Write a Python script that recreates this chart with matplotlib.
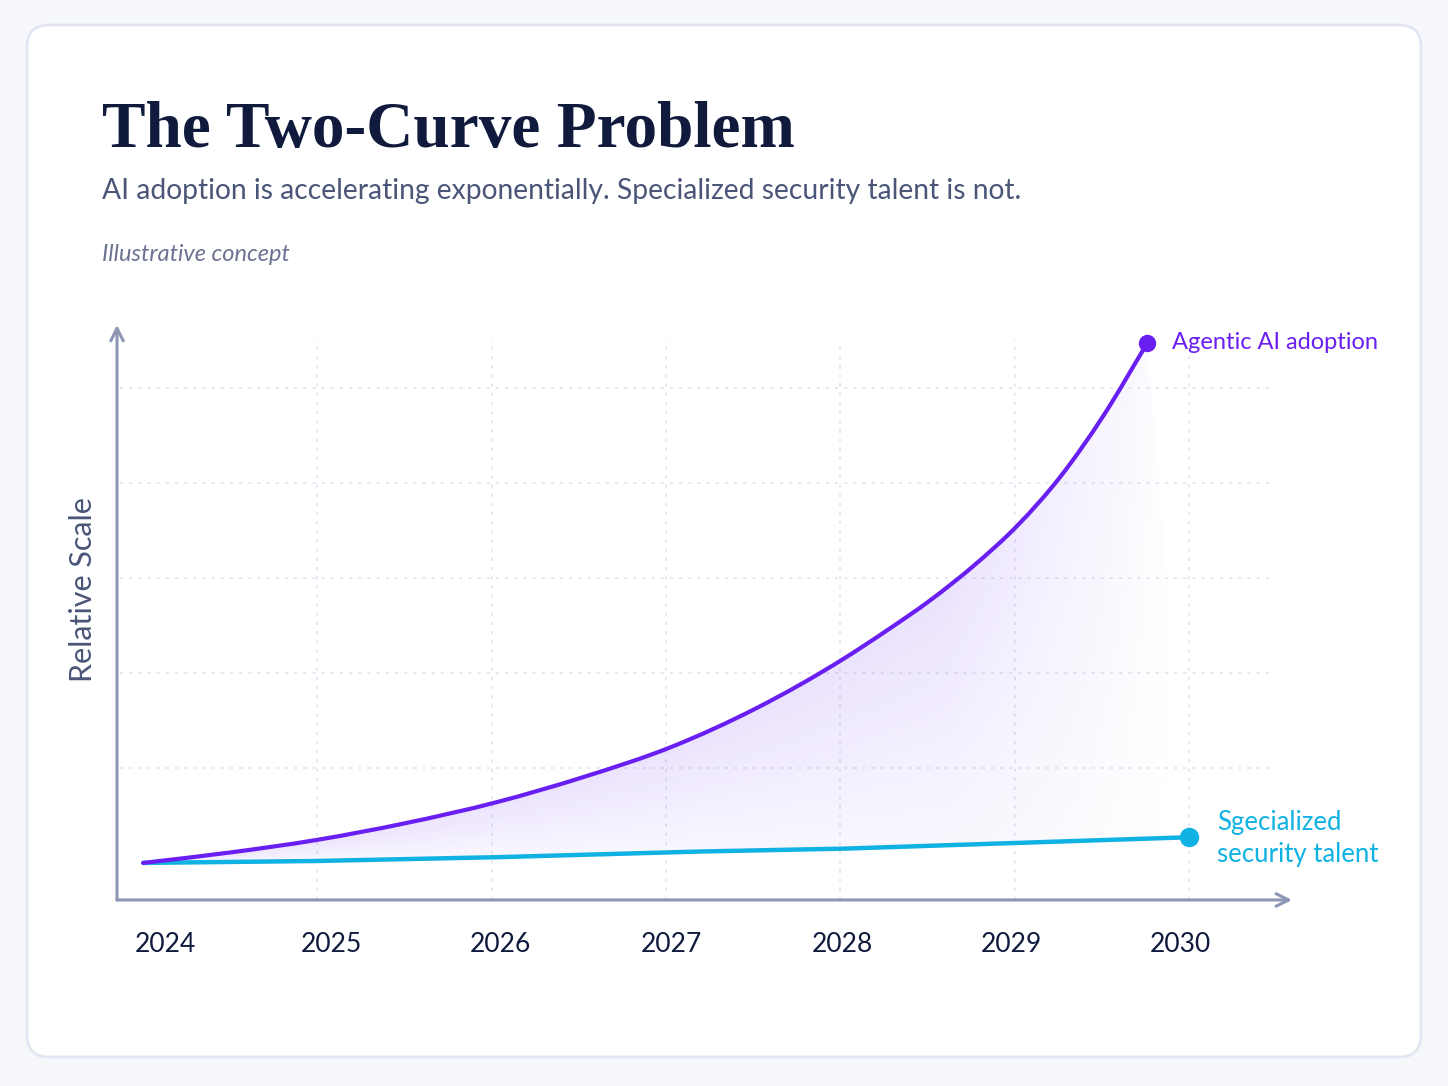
import numpy as np
import matplotlib
matplotlib.use('Agg')
import matplotlib.pyplot as plt
from matplotlib.patches import FancyBboxPatch, PathPatch
from matplotlib.path import Path

# 資料 (相對刻度, 由圖上讀取)
agentic_x = [2024.0, 2024.50, 2024.99, 2025.51, 2026.03, 2026.52, 2027.03, 2027.52,
             2028.02, 2028.27, 2028.52, 2028.76, 2029.01, 2029.26, 2029.51, 2029.76]
agentic_y = [0.0, 0.11, 0.24, 0.42, 0.64, 0.90, 1.22, 1.63,
             2.15, 2.45, 2.77, 3.12, 3.54, 4.06, 4.71, 5.47]
talent_x = [2024.0, 2024.99, 2026.03, 2027.20, 2028.02, 2029.01, 2030.0]
talent_y = [0.0, 0.02, 0.06, 0.12, 0.15, 0.21, 0.27]

years = ['2024', '2025', '2026', '2027', '2028', '2029', '2030']
tick_x = [2024.13, 2025.08, 2026.05, 2027.03, 2028.01, 2028.98, 2029.95]
grid_x = [2025, 2026, 2027, 2028, 2029, 2030]
grid_y = [1, 2, 3, 4, 5]

PURPLE = '#6a1ff2'
CYAN = '#0fb2e2'
NAVY = '#0f1a3d'
SLATE = '#4a5578'
AXIS = '#8d96b2'
GRID = '#dde2ef'

plt.rcParams['font.family'] = ['Lato', 'DejaVu Sans']


def smooth_path(xs, ys):
    # 三次 Hermite 曲線 (轉成貝茲), 平滑通過每個讀取點
    x = np.asarray(xs, float)
    y = np.asarray(ys, float)
    h = np.diff(x)
    d = np.diff(y) / h
    m = np.empty_like(x)
    m[0], m[-1] = d[0], d[-1]
    m[1:-1] = (d[1:] * h[:-1] + d[:-1] * h[1:]) / (h[:-1] + h[1:])
    verts = [(x[0], y[0])]
    codes = [Path.MOVETO]
    for i in range(len(x) - 1):
        verts += [(x[i] + h[i] / 3, y[i] + m[i] * h[i] / 3),
                  (x[i + 1] - h[i] / 3, y[i + 1] - m[i + 1] * h[i] / 3),
                  (x[i + 1], y[i + 1])]
        codes += [Path.CURVE4] * 3
    return verts, codes


fig = plt.figure(figsize=(14.48, 10.86), dpi=100)
fig.patch.set_facecolor('#f7f8fb')

# 卡片背景
card = FancyBboxPatch((0.27, 0.29), 13.94, 10.32, boxstyle='round,pad=0,rounding_size=0.22',
                      transform=fig.dpi_scale_trans, facecolor='white', edgecolor='#e1e6f2',
                      linewidth=2, zorder=-5)
fig.patches.append(card)

ax = fig.add_axes([117 / 1448, 0.1713, 1175 / 1448, 0.5295])
ax.set_facecolor('none')
xmin, xmax = 2023.85, 2030.59
ymin, ymax = -0.39, 5.66
ax.set_xlim(xmin, xmax)
ax.set_ylim(ymin, ymax)
for s in ax.spines.values():
    s.set_visible(False)

# 網格
ax.hlines(grid_y, xmin + 0.02, 2030.47, colors=GRID, linewidth=1.1, linestyles=(0, (2, 4)), zorder=1)
ax.vlines(grid_x, ymin, 5.5, colors=GRID, linewidth=1.1, linestyles=(0, (2, 4)), zorder=1)

# 漸層填色 (兩曲線之間)
a_verts, a_codes = smooth_path(agentic_x, agentic_y)
fill_verts = a_verts + list(zip(talent_x[::-1], talent_y[::-1])) + [a_verts[0]]
fill_codes = a_codes + [Path.LINETO] * len(talent_x) + [Path.CLOSEPOLY]
clip = PathPatch(Path(fill_verts, fill_codes), facecolor='none', edgecolor='none')
ax.add_patch(clip)
gx = np.linspace(2024.0, 2030.1, 700)
gy = np.linspace(0, 5.6, 500)
X, Y = np.meshgrid(gx, gy)
ya = np.interp(X, agentic_x, agentic_y)
yt = np.interp(X, talent_x, talent_y)
t = np.clip((Y - yt) / (ya - yt + 1e-6), 0, 1)
fade = np.clip((2029.9 - X) / 1.3, 0, 1) ** 0.8
alpha = 0.17 * (0.3 + 0.7 * t) * fade
rgba = np.zeros(X.shape + (4,))
rgba[..., 0] = 139 / 255
rgba[..., 1] = 92 / 255
rgba[..., 2] = 246 / 255
rgba[..., 3] = alpha
im = ax.imshow(rgba, extent=(gx[0], gx[-1], gy[0], gy[-1]), origin='lower', aspect='auto',
               interpolation='bilinear', zorder=2)
im.set_clip_path(clip)

# 曲線
ax.plot(talent_x, talent_y, color=CYAN, linewidth=3.2, solid_capstyle='round', zorder=3)
ax.add_patch(PathPatch(Path(a_verts, a_codes), facecolor='none', edgecolor=PURPLE,
                       linewidth=3.0, capstyle='round', joinstyle='round', zorder=4))
ax.plot(agentic_x[-1], agentic_y[-1], 'o', color=PURPLE, markersize=11.5, zorder=5)
ax.plot(talent_x[-1], talent_y[-1], 'o', color=CYAN, markersize=13, zorder=5)

ax.annotate('Agentic AI adoption', (agentic_x[-1], agentic_y[-1]), xytext=(18, 0),
            textcoords='offset points', va='center', ha='left', fontsize=17, color=PURPLE)
ax.annotate('Sgecialized\nsecurity talent', (talent_x[-1], talent_y[-1]), xytext=(20, -1),
            textcoords='offset points', va='center', ha='left', fontsize=18.5, color=CYAN,
            linespacing=1.32)

# 座標軸箭頭
arrow = dict(arrowstyle='->,head_length=0.9,head_width=0.45', color=AXIS, lw=2.2,
             shrinkA=0, shrinkB=0)
ax.annotate('', xy=(1, 0), xytext=(0, 0), xycoords='axes fraction', arrowprops=arrow)
ax.annotate('', xy=(0, 1), xytext=(0, 0), xycoords='axes fraction', arrowprops=arrow)

ax.set_xticks(tick_x, years)
ax.set_yticks([])
ax.tick_params(axis='x', length=0, pad=23, labelsize=19, labelcolor=NAVY)

# 標題與文字
fig.text(102 / 1448, (1086 - 147) / 1086, 'The Two-Curve Problem', family='Liberation Serif',
         fontweight='bold', fontsize=47, color=NAVY, va='baseline')
fig.text(102 / 1448, (1086 - 199) / 1086,
         'AI adoption is accelerating exponentially. Specialized security talent is not.',
         fontsize=20.3, color=SLATE, va='baseline')
fig.text(102 / 1448, (1086 - 261) / 1086, 'Illustrative concept', fontsize=17,
         style='italic', color='#6b7390', va='baseline')
fig.text(83 / 1448, (1086 - 590) / 1086, 'Relative Scale', rotation=90, fontsize=22,
         color=SLATE, ha='center', va='center')

fig.savefig('out.png', dpi=100, facecolor=fig.get_facecolor())
